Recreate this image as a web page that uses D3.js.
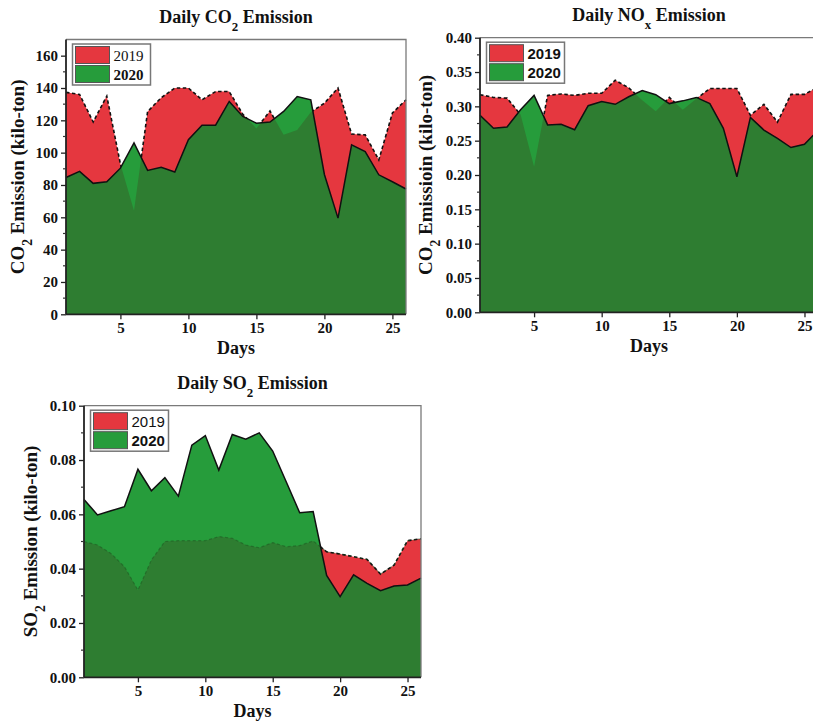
<!DOCTYPE html>
<html><head><meta charset="utf-8">
<script src="https://cdn.jsdelivr.net/npm/d3@7"></script>
<style>body{margin:0;background:#fff}svg{display:block}</style>
</head><body><svg id="c" width="813" height="721"></svg>
<script>
const days = d3.range(1, 27);
const seriesNames = ["2019", "2020"];

const co2_2019 = [137.3,136,119,135,93,64,125.4,134,140,140,132.7,137.8,137.8,123.8,115,125.8,111,114,125,130.6,140,111.5,111,95.5,124.5,132.7];
const co2_2020 = [84.6,88.4,81,82,90.4,106,89,91,88,108,117,117,131.7,122.4,118.2,118.9,125.5,134.7,132.7,86.5,59.5,104.8,100.7,86.3,82,77.5];

const nox_2019 = [0.317,0.313,0.312,0.288,0.212,0.316,0.318,0.316,0.319,0.319,0.338,0.327,0.309,0.293,0.313,0.295,0.311,0.326,0.326,0.326,0.287,0.303,0.277,0.3175,0.3175,0.328];
const nox_2020 = [0.287,0.268,0.270,0.295,0.316,0.273,0.274,0.266,0.301,0.307,0.303,0.314,0.323,0.317,0.304,0.308,0.313,0.304,0.268,0.1975,0.284,0.2655,0.2535,0.240,0.2447,0.265];

const so2_2019 = [0.050,0.0487,0.0456,0.0407,0.0321,0.0432,0.050,0.0503,0.0503,0.0503,0.0518,0.0512,0.0487,0.0477,0.0496,0.0481,0.0485,0.0502,0.0462,0.0454,0.0444,0.0434,0.038,0.0413,0.0503,0.051];
const so2_2020 = [0.0655,0.0598,0.0613,0.0628,0.0766,0.0687,0.0735,0.0667,0.0855,0.089,0.0763,0.0894,0.0877,0.090,0.0833,0.072,0.0606,0.061,0.0375,0.0297,0.0377,0.0346,0.0319,0.0336,0.034,0.0365];

const xTicks = [5, 10, 15, 20, 25];
const co2Ticks = [0, 20, 40, 60, 80, 100, 120, 140, 160];
const noxTicks = [0, 0.05, 0.10, 0.15, 0.20, 0.25, 0.30, 0.35, 0.40];
const so2Ticks = [0, 0.02, 0.04, 0.06, 0.08, 0.10];

const RED = "#e5373f", BRIGHT = "#269c3b", DARK = "#2e7d31";
const SERIF = "'Liberation Serif','Times New Roman',serif";
const SANS = "'Liberation Sans',Arial,sans-serif";

const svg = d3.select("#c");
let clipId = 0;

function richText(sel, parts) {
  parts.forEach(p => {
    const t = sel.append("tspan").text(p[0]);
    if (p[1] === "sub") t.attr("baseline-shift", "sub").attr("font-size", "72%");
  });
}

function chart(cfg) {
  const x = d3.scaleLinear().domain([1, 26]).range([cfg.left, cfg.right]);
  const y = d3.scaleLinear().domain(cfg.yDomain).range([cfg.bottom, cfg.top]);
  const g = svg.append("g");
  const data = days.map((d, i) => ({d, a: cfg.s19[i], b: cfg.s20[i]}));

  const area19 = d3.area().x(d => x(d.d)).y0(y(0)).y1(d => y(d.a));
  const area20 = d3.area().x(d => x(d.d)).y0(y(0)).y1(d => y(d.b));
  const line19 = d3.line().x(d => x(d.d)).y(d => y(d.a));
  const line20 = d3.line().x(d => x(d.d)).y(d => y(d.b));

  const id = "clip" + (clipId++);
  g.append("clipPath").attr("id", id).append("path").attr("d", area19(data));

  g.append("path").attr("d", area19(data)).attr("fill", RED);
  g.append("path").attr("d", line19(data)).attr("fill", "none")
    .attr("stroke", "#111").attr("stroke-width", 1.6).attr("stroke-dasharray", "3.5,2.5");
  g.append("path").attr("d", area20(data)).attr("fill", BRIGHT);
  g.append("path").attr("d", area20(data)).attr("fill", DARK).attr("clip-path", `url(#${id})`);
  if (cfg.faint) {
    g.append("path").attr("d", line19(data)).attr("fill", "none")
      .attr("stroke", "#1a4d1d").attr("stroke-opacity", 0.45).attr("stroke-width", 1.2).attr("stroke-dasharray", "3,2.5");
  }
  g.append("path").attr("d", line20(data)).attr("fill", "none")
    .attr("stroke", "#111").attr("stroke-width", 1.5);

  // frame
  g.append("path").attr("d", `M${cfg.left},${cfg.top}H${cfg.right}V${cfg.bottom}`)
    .attr("fill", "none").attr("stroke", "#7a7a7a").attr("stroke-width", 1.3);

  // y axis
  const yAxis = d3.axisLeft(y).tickValues(cfg.yTicks).tickSize(5).tickPadding(3)
    .tickFormat(cfg.fmt);
  const ya = g.append("g").attr("transform", `translate(${cfg.left},0)`).call(yAxis);
  const minor = [];
  for (let i = 0; i < cfg.yTicks.length - 1; i++) minor.push((cfg.yTicks[i] + cfg.yTicks[i + 1]) / 2);
  ya.selectAll(".minor").data(minor).enter().append("line").attr("class", "minor")
    .attr("x1", 0).attr("x2", -3).attr("y1", d => y(d)).attr("y2", d => y(d))
    .attr("stroke", "#333").attr("stroke-width", 1.2);

  // x axis
  const xAxis = d3.axisBottom(x).tickValues(xTicks).tickSize(5).tickPadding(3).tickFormat(d3.format("d"));
  const xa = g.append("g").attr("transform", `translate(0,${cfg.bottom})`).call(xAxis);

  [ya, xa].forEach(a => {
    a.select(".domain").attr("stroke", "#222").attr("stroke-width", 1.8);
    a.selectAll(".tick line").attr("stroke", "#222").attr("stroke-width", 1.3);
    a.selectAll("text").attr("font-family", SERIF).attr("font-weight", "bold")
      .attr("font-size", cfg.tickSize).attr("fill", "#111");
  });
  ya.select(".domain").attr("d", `M0,${cfg.bottom}V${cfg.top}`);
  xa.select(".domain").attr("d", `M${cfg.left},0H${cfg.right}`);

  // title
  const t = g.append("text").attr("x", (cfg.left + cfg.right) / 2).attr("y", cfg.top - 16.5)
    .attr("text-anchor", "middle").attr("font-family", SERIF).attr("font-weight", "bold")
    .attr("font-size", 18).attr("fill", "#111");
  richText(t, cfg.title);

  // x label
  g.append("text").attr("x", (cfg.left + cfg.right) / 2).attr("y", cfg.bottom + 40)
    .attr("text-anchor", "middle").attr("font-family", SERIF).attr("font-weight", "bold")
    .attr("font-size", 18).attr("fill", "#111").text("Days");

  // y label
  const yl = g.append("text")
    .attr("transform", `translate(${cfg.ylabelX},${(cfg.top + cfg.bottom) / 2}) rotate(-90)`)
    .attr("text-anchor", "middle").attr("font-family", SERIF).attr("font-weight", "bold")
    .attr("font-size", 19).attr("fill", "#111");
  richText(yl, cfg.ylabel);

  // legend
  const lx = cfg.left + 6.5, ly = cfg.top + 4.5;
  const lg = g.append("g");
  lg.append("rect").attr("x", lx).attr("y", ly).attr("width", 78).attr("height", 41)
    .attr("fill", "#fff").attr("stroke", "#777").attr("stroke-width", 1.5);
  [[RED, seriesNames[0], cfg.legW[0]], [BRIGHT, seriesNames[1], cfg.legW[1]]].forEach((s, i) => {
    lg.append("rect").attr("x", lx + 3).attr("y", ly + 2.5 + i * 19).attr("width", 34).attr("height", 17)
      .attr("fill", s[0]).attr("stroke", "#555").attr("stroke-width", 1);
    lg.append("text").attr("x", lx + 41).attr("y", ly + 16.5 + i * 19)
      .attr("font-family", cfg.legFont).attr("font-weight", s[2])
      .attr("font-size", 15).attr("fill", "#111").text(s[1]);
  });
}

chart({
  left: 66, right: 406, top: 39.5, bottom: 314.3, yDomain: [0, 170], yTicks: co2Ticks,
  fmt: d3.format("d"), s19: co2_2019, s20: co2_2020, tickSize: 15,
  title: [["Daily CO", ""], ["2", "sub"], [" Emission", ""]],
  ylabel: [["CO", ""], ["2", "sub"], [" Emission (kilo-ton)", ""]], ylabelX: 24,
  legFont: SERIF, legW: ["normal", "bold"]
});
chart({
  left: 480, right: 818, top: 37.7, bottom: 312.3, yDomain: [0, 0.4], yTicks: noxTicks,
  fmt: d3.format(".2f"), s19: nox_2019, s20: nox_2020, tickSize: 15,
  title: [["Daily NO", ""], ["x", "sub"], [" Emission", ""]],
  ylabel: [["CO", ""], ["2", "sub"], [" Emissioin (kilo-ton)", ""]], ylabelX: 432,
  legFont: SANS, legW: ["bold", "bold"]
});
chart({
  left: 84, right: 421, top: 405.7, bottom: 677.3, yDomain: [0, 0.1], yTicks: so2Ticks,
  fmt: d3.format(".2f"), s19: so2_2019, s20: so2_2020, tickSize: 15, faint: true,
  title: [["Daily SO", ""], ["2", "sub"], [" Emission", ""]],
  ylabel: [["SO", ""], ["2", "sub"], [" Emission (kilo-ton)", ""]], ylabelX: 37,
  legFont: SANS, legW: ["normal", "bold"]
});
</script>
</body></html>
